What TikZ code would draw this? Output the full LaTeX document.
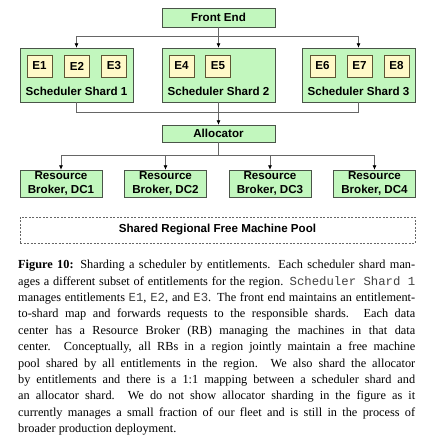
\documentclass[tikz,border=0pt]{standalone}
\usepackage{fontspec}
\setmainfont{Liberation Serif}
\setmonofont{Liberation Mono}
\newfontfamily\diagfont{Liberation Sans}
\usetikzlibrary{arrows.meta}
\usetikzlibrary{shadows}
\definecolor{boxgreen}{HTML}{C2F7BE}
\definecolor{boxyellow}{HTML}{FFF9C8}
\definecolor{boxedge}{HTML}{4A5448}
\definecolor{entedge}{HTML}{5E5634}
\definecolor{wiregray}{HTML}{666666}

\begin{document}
\begin{tikzpicture}[x=1pt, y=-1pt]
            \tikzstyle{unit} = [draw=boxedge, fill=boxgreen, inner sep=0pt, font=\diagfont\bfseries\fontsize{11.6}{14.5}\selectfont, align=center, drop shadow={shadow xshift=0.7pt, shadow yshift=-0.9pt, fill=black, opacity=0.25}]
            \tikzstyle{shard} = [unit, minimum width=113pt, minimum height=54pt]
            \tikzstyle{ent} = [unit, draw=entedge, fill=boxyellow, minimum width=25pt, minimum height=22pt]
            \tikzstyle{broker} = [unit, minimum width=82pt, minimum height=27pt]
            \tikzstyle{boxtext} = [inner sep=0pt, font=\diagfont\bfseries\fontsize{11.6}{14.5}\selectfont]
            \tikzstyle{wire} = [draw=wiregray, line width=0.7pt]
            \tikzstyle{feed} = [wire, -{Latex[length=4.5pt, width=4pt, color=black]}]
            \useasboundingbox (0, 0) rectangle (433, 440);
            % front end and its fan-out
            \node[unit, minimum width=113pt, minimum height=19pt] (frontend) at (218.5, 17.5) {Front End};
            \node[shard] (shard1) at (76.5, 75) {};
            \node[shard] (shard2) at (218.5, 75) {};
            \node[shard] (shard3) at (358.5, 75) {};
            \node[boxtext] (name1) at (76.5, 91) {Scheduler Shard 1};
            \node[boxtext] (name2) at (218.5, 91) {Scheduler Shard 2};
            \node[boxtext] (name3) at (358.5, 91) {Scheduler Shard 3};
            \foreach \e/\x in {1/39.5, 2/77, 3/114, 4/181.5, 5/218, 6/322.5, 7/359.5, 8/396.5}
                \node[ent] (ent\e) at (\x, 66) {E\e};
            \coordinate (fesplit) at (218.5, 36);
            \draw[wire] (frontend.south) -- (fesplit);
            \foreach \s in {1, 2, 3}
                \draw[feed] (fesplit) -| (shard\s.north);
            % allocator
            \node[unit, minimum width=113pt, minimum height=17pt] (alloc) at (218.5, 133.5) {Allocator};
            \coordinate (almerge) at (218.5, 112);
            \draw[wire] (shard1.south) |- (almerge);
            \draw[wire] (shard3.south) |- (almerge);
            \draw[wire] (shard2.south) -- (almerge);
            \draw[feed] (almerge) -- (alloc.north);
            % resource brokers
            \foreach \d/\x in {1/61, 2/165.5, 3/270, 4/374.5}
                \node[broker] (rb\d) at (\x, 183.5) {Resource\\Broker, DC\d};
            \coordinate (rbsplit) at (218.5, 155);
            \draw[wire] (alloc.south) -- (rbsplit);
            \foreach \d in {1, 2, 3, 4}
                \draw[feed] (rbsplit) -| (rb\d.north);
            \node[boxtext, draw=wiregray, dash pattern=on 2pt off 1.5pt, minimum width=395pt, minimum height=26pt] (pool) at (217.5, 230) {Shared Regional Free Machine Pool};
            % caption
            \node[anchor=north west, inner sep=0pt, text width=397pt, align=justify, font=\fontsize{12.3}{16.4}\selectfont] (caption) at (18, 260) {\textbf{Figure 10:} Sharding a scheduler by entitlements. Each scheduler shard man-\linebreak
ages a different subset of entitlements for the region. {\color{black!75}\texttt{Scheduler Shard 1}}\linebreak
manages entitlements {\color{black!75}\texttt{E1}}, {\color{black!75}\texttt{E2}}, and {\color{black!75}\texttt{E3}}. The front end maintains an entitlement-\linebreak
to-shard map and forwards requests to the responsible shards. Each data\linebreak
center has a Resource Broker (RB) managing the machines in that data\linebreak
center. Conceptually, all RBs in a region jointly maintain a free machine\linebreak
pool shared by all entitlements in the region. We also shard the allocator\linebreak
by entitlements and there is a 1:1 mapping between a scheduler shard and\linebreak
an allocator shard. We do not show allocator sharding in the figure as it\linebreak
currently manages a small fraction of our fleet and is still in the process of\linebreak
broader production deployment.};
        \end{tikzpicture}
\end{document}
